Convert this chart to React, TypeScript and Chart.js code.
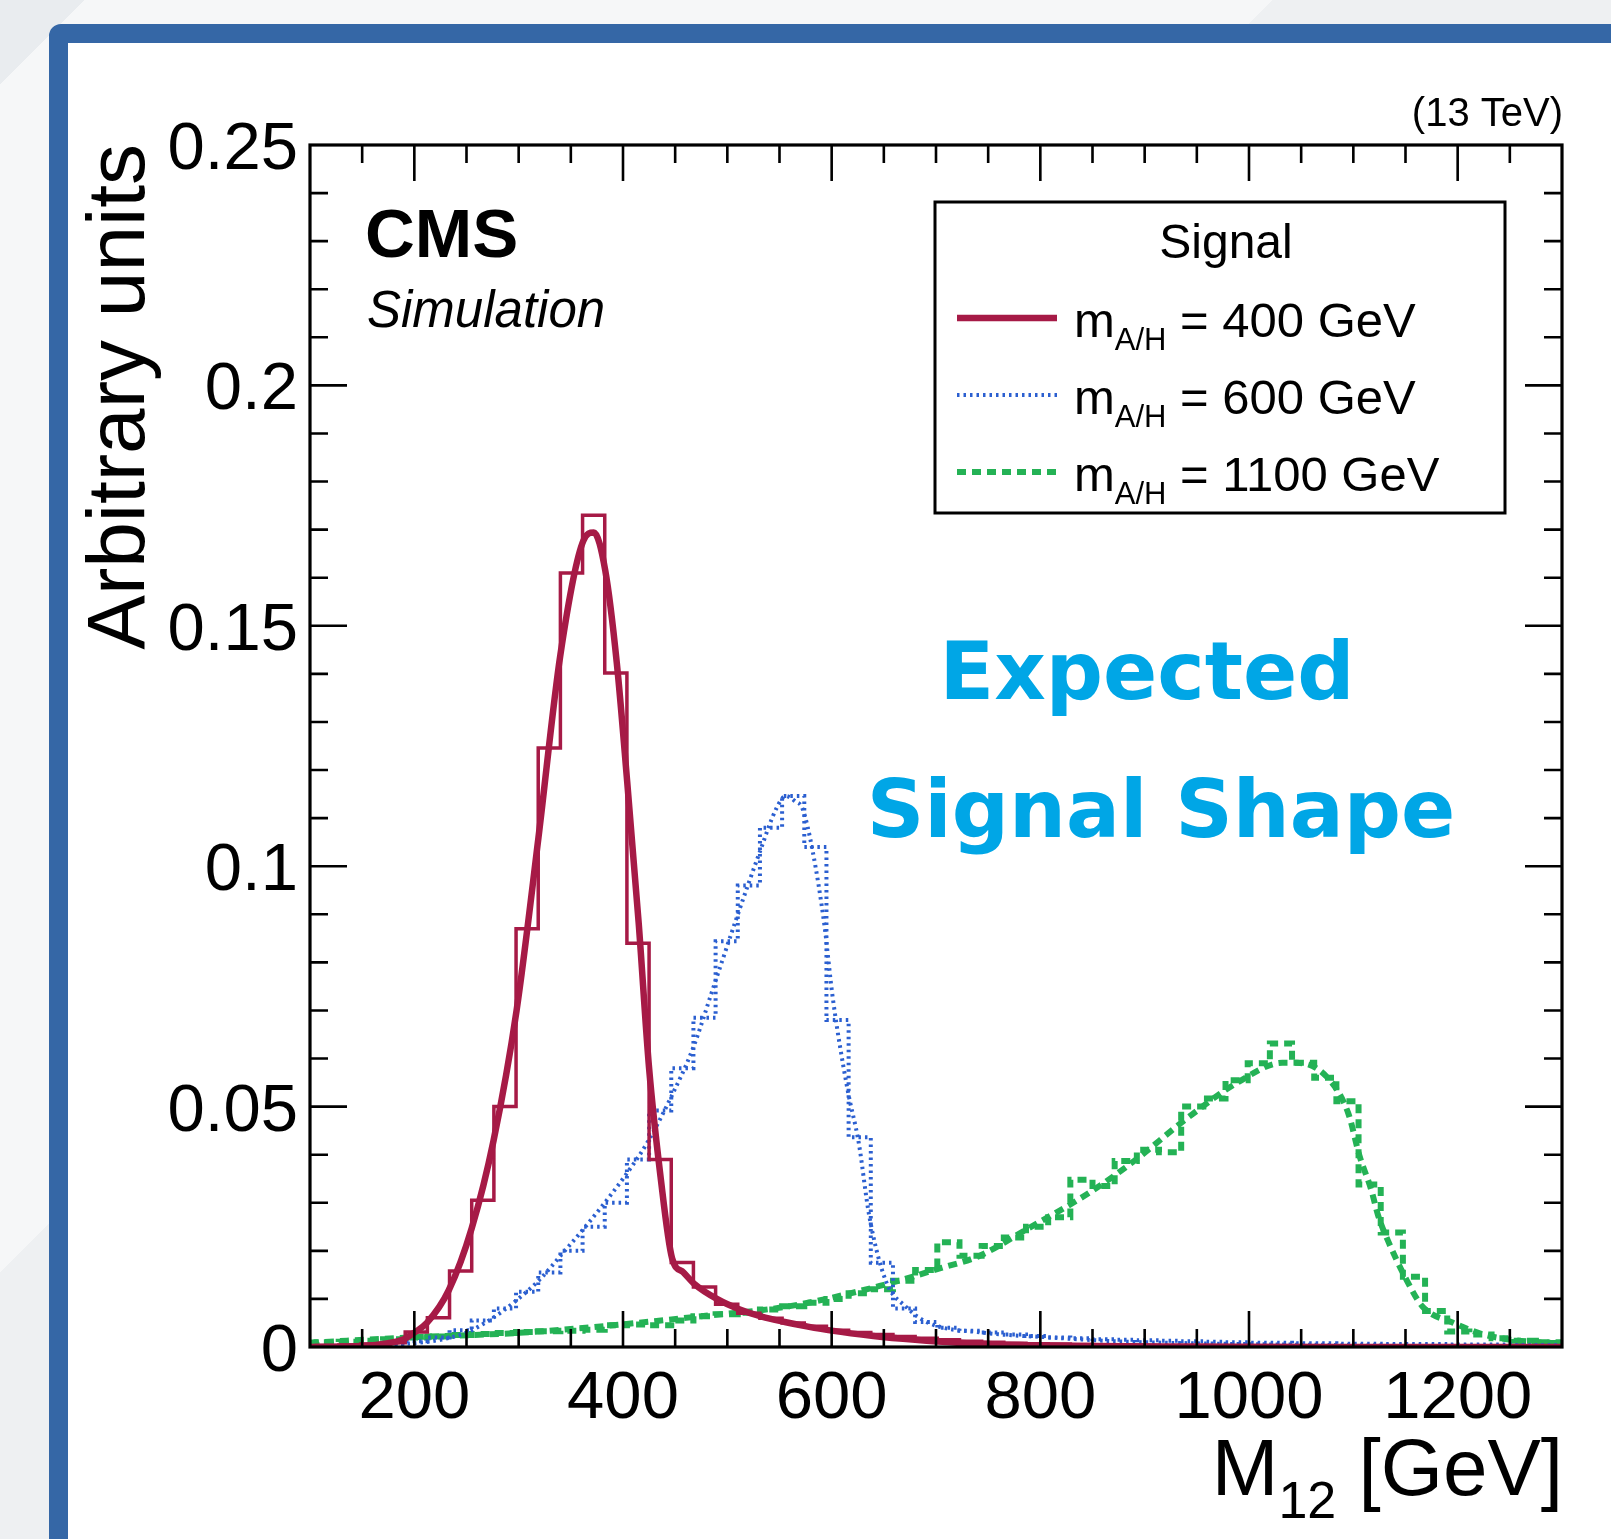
import React, { useEffect, useRef } from "react";
import { Chart, registerables } from "chart.js";

Chart.register(...registerables);

// ---------------- data ----------------
// Histogram bins: bin k covers [k*BIN_WIDTH, (k+1)*BIN_WIDTH) GeV, first stored bin is FIRST_BIN
const BIN_WIDTH = 21.25;
const FIRST_BIN = 4;

const red400Hist = [
  0.0002, 0.0003, 0.0004, 0.0006, 0.0009, 0.0031, 0.0061, 0.0158, 0.0305, 0.05,
  0.087, 0.1246, 0.161, 0.173, 0.1402, 0.084, 0.039, 0.0176, 0.0125, 0.0089,
  0.007, 0.006, 0.005, 0.0043, 0.0035, 0.003, 0.0026, 0.0022, 0.0018, 0.0015,
  0.0012, 0.001, 0.0008, 0.0007, 0.0006, 0.0005, 0.0004, 0.0003, 0.0003, 0.0002,
  0.0002, 0.0001, 0.0001, 0.0001, 0.0001, 0.0001, 0.0001, 0, 0, 0,
  0, 0, 0, 0, 0, 0, 0, 0,
];

const blue600Hist = [
  0.0001, 0.0002, 0.0002, 0.0004, 0.0007, 0.0012, 0.002, 0.0035, 0.0055, 0.008,
  0.0115, 0.0155, 0.02, 0.025, 0.03, 0.039, 0.0492, 0.058, 0.0685, 0.0844,
  0.096, 0.108, 0.1146, 0.104, 0.068, 0.0436, 0.0175, 0.008, 0.0052, 0.004,
  0.0034, 0.003, 0.0026, 0.0023, 0.002, 0.0018, 0.0016, 0.0015, 0.0014, 0.0013,
  0.0012, 0.0011, 0.001, 0.0009, 0.0009, 0.0008, 0.0008, 0.0007, 0.0007, 0.0006,
  0.0006, 0.0006, 0.0005, 0.0005, 0.0005, 0.0004, 0.0004, 0.0004,
];

const green1100Hist = [
  0.0009, 0.001, 0.0011, 0.0013, 0.0016, 0.002, 0.0022, 0.0025, 0.0027, 0.0029,
  0.0031, 0.0033, 0.0034, 0.0036, 0.0045, 0.0047, 0.0045, 0.0055, 0.0064, 0.0068,
  0.0071, 0.0078, 0.0085, 0.0092, 0.01, 0.0112, 0.012, 0.0138, 0.016, 0.0218,
  0.019, 0.021, 0.0228, 0.025, 0.027, 0.0348, 0.0335, 0.0387, 0.041, 0.0405,
  0.05, 0.0517, 0.0555, 0.059, 0.0631, 0.0591, 0.056, 0.0511, 0.0338, 0.0238,
  0.0146, 0.0075, 0.0032, 0.0026, 0.0018, 0.0013, 0.001, 0.0008,
];

// Fitted shapes
const red400FitX = [100, 150, 175, 190, 200, 212, 233, 255, 276, 298, 319, 340, 362, 372, 383, 394, 404, 415, 425, 436, 447, 458, 469, 490, 512, 533, 555, 576, 600, 640, 680, 720, 780, 850, 950, 1100, 1300];
const red400FitY = [0, 0.0002, 0.0008, 0.0016, 0.003, 0.005, 0.0118, 0.0247, 0.043, 0.07, 0.106, 0.144, 0.1677, 0.1694, 0.1615, 0.1424, 0.1176, 0.0883, 0.058, 0.0354, 0.0185, 0.0155, 0.013, 0.01, 0.0078, 0.0063, 0.0052, 0.0043, 0.0034, 0.0023, 0.0015, 0.0009, 0.0004, 0.0002, 0.0001, 0, 0];

const blue600FitX = [100, 150, 200, 225, 250, 275, 295, 320, 343, 362, 381, 400, 423, 445, 467, 488, 509, 531, 547, 556, 565, 572, 582, 593, 601, 615, 626, 636, 652, 671, 693, 744, 808, 871, 967, 1100, 1300];
const blue600FitY = [0.0001, 0.0003, 0.0008, 0.0015, 0.003, 0.006, 0.0092, 0.014, 0.0197, 0.0245, 0.0296, 0.035, 0.0424, 0.0515, 0.0621, 0.0757, 0.0893, 0.1029, 0.112, 0.1146, 0.1135, 0.112, 0.1029, 0.0878, 0.0727, 0.0538, 0.0424, 0.0273, 0.0137, 0.0084, 0.005, 0.003, 0.002, 0.0012, 0.0007, 0.0004, 0.0002];

const green1100FitX = [100, 198, 305, 399, 475, 560, 646, 706, 741, 787, 847, 890, 939, 989, 1032, 1046, 1074, 1095, 1106, 1117, 1124, 1134, 1149, 1166, 1195, 1230, 1287, 1300];
const green1100FitY = [0.0009, 0.002, 0.003, 0.0047, 0.0064, 0.0085, 0.0127, 0.0165, 0.0189, 0.0245, 0.0321, 0.0387, 0.0473, 0.055, 0.0591, 0.0591, 0.0563, 0.0487, 0.0397, 0.0328, 0.0272, 0.0217, 0.0148, 0.0085, 0.0051, 0.0023, 0.0009, 0.0008];

// Axes
const X_MIN = 100;
const X_MAX = 1300;
const Y_MIN = 0;
const Y_MAX = 0.25;
const xMajorTicks = [200, 400, 600, 800, 1000, 1200];
const xTickLabels = ["200", "400", "600", "800", "1000", "1200"];
const X_MINOR_STEP = 50;
const yMajorTicks = [0, 0.05, 0.1, 0.15, 0.2, 0.25];
const yTickLabels = ["0", "0.05", "0.1", "0.15", "0.2", "0.25"];
const Y_MINOR_STEP = 0.01;

const legendTitle = "Signal";
const legendMasses = ["400", "600", "1100"];

// ---------------- styles ----------------
const RED = "#a61a46";
const BLUE = "#2b5fd0";
const GREEN = "#24b255";
const FONT = '"Liberation Sans", Arial, Helvetica, sans-serif';

const lineStyles = [
  { color: RED, width: 6.5, dash: [] as number[] },
  { color: BLUE, width: 4, dash: [2.5, 4] },
  { color: GREEN, width: 6, dash: [9, 6] },
];

function histPoints(values: number[]) {
  const pts = values.map((v, i) => ({ x: (FIRST_BIN + i) * BIN_WIDTH, y: v }));
  pts.push({ x: (FIRST_BIN + values.length) * BIN_WIDTH, y: values[values.length - 1] });
  return pts;
}

function curvePoints(xs: number[], ys: number[]) {
  return xs.map((x, i) => ({ x, y: ys[i] }));
}

const rootPlugin = {
  id: "rootStyle",
  afterDatasetsDraw(chart: any) {
    const { ctx, chartArea: a, scales } = chart;
    const xs = scales.x;
    const ys = scales.y;
    ctx.save();

    // frame
    ctx.strokeStyle = "#000";
    ctx.lineWidth = 3.2;
    ctx.strokeRect(a.left, a.top, a.right - a.left, a.bottom - a.top);

    // ticks
    ctx.lineWidth = 2.6;
    ctx.beginPath();
    const nx = Math.round((X_MAX - X_MIN) / X_MINOR_STEP);
    for (let i = 1; i < nx; i++) {
      const v = X_MIN + i * X_MINOR_STEP;
      const px = xs.getPixelForValue(v);
      const len = xMajorTicks.includes(v) ? 36 : 18;
      ctx.moveTo(px, a.bottom);
      ctx.lineTo(px, a.bottom - len);
      ctx.moveTo(px, a.top);
      ctx.lineTo(px, a.top + len);
    }
    const ny = Math.round((Y_MAX - Y_MIN) / Y_MINOR_STEP);
    for (let i = 1; i < ny; i++) {
      const v = Y_MIN + i * Y_MINOR_STEP;
      const py = ys.getPixelForValue(v);
      const major = i % 5 === 0;
      const len = major ? 37 : 18;
      ctx.moveTo(a.left, py);
      ctx.lineTo(a.left + len, py);
      ctx.moveTo(a.right, py);
      ctx.lineTo(a.right - len, py);
    }
    ctx.stroke();

    // tick labels
    ctx.fillStyle = "#000";
    ctx.font = `67px ${FONT}`;
    ctx.textBaseline = "alphabetic";
    ctx.textAlign = "center";
    xMajorTicks.forEach((v, i) => {
      ctx.fillText(xTickLabels[i], xs.getPixelForValue(v), a.bottom + 71);
    });
    ctx.textAlign = "right";
    yMajorTicks.forEach((v, i) => {
      ctx.fillText(yTickLabels[i], a.left - 12, ys.getPixelForValue(v) + 24);
    });

    // y title
    ctx.save();
    ctx.translate(144, a.top - 1);
    ctx.rotate(-Math.PI / 2);
    ctx.font = `82px ${FONT}`;
    ctx.textAlign = "right";
    ctx.fillText("Arbitrary units", 0, 0);
    ctx.restore();

    // x title: M_12 [GeV]
    ctx.textAlign = "left";
    const mainF = `80px ${FONT}`;
    const subF = `52px ${FONT}`;
    ctx.font = mainF;
    const wM = ctx.measureText("M").width;
    const wRest = ctx.measureText(" [GeV]").width;
    ctx.font = subF;
    const wSub = ctx.measureText("12").width;
    let tx = a.right + 1 - (wM + wSub + wRest);
    ctx.font = mainF;
    ctx.fillText("M", tx, 1495);
    tx += wM;
    ctx.font = subF;
    ctx.fillText("12", tx, 1518);
    tx += wSub;
    ctx.font = mainF;
    ctx.fillText(" [GeV]", tx, 1495);

    // energy label
    ctx.font = `40px ${FONT}`;
    ctx.textAlign = "right";
    ctx.fillText("(13 TeV)", a.right + 1, 126);

    // CMS Simulation
    ctx.textAlign = "left";
    ctx.font = `bold 69px ${FONT}`;
    ctx.fillText("CMS", 365, 257);
    ctx.font = `italic 51px ${FONT}`;
    ctx.fillText("Simulation", 367, 327);

    // Expected Signal Shape
    ctx.fillStyle = "#00a6e6";
    ctx.font = 'bold 80px "DejaVu Sans", sans-serif';
    ctx.textAlign = "center";
    ctx.fillText("Expected", 1147, 699);
    ctx.fillText("Signal Shape", 1161, 837);

    // legend
    const lx = 935, ly = 202, lw = 570, lh = 311;
    ctx.fillStyle = "#fff";
    ctx.fillRect(lx, ly, lw, lh);
    ctx.strokeStyle = "#000";
    ctx.lineWidth = 3;
    ctx.strokeRect(lx, ly, lw, lh);
    ctx.fillStyle = "#000";
    ctx.font = `48px ${FONT}`;
    ctx.textAlign = "center";
    ctx.fillText(legendTitle, 1226, 258);
    ctx.textAlign = "left";
    legendMasses.forEach((m, i) => {
      const base = 337 + i * 77;
      const st = lineStyles[i];
      ctx.save();
      ctx.strokeStyle = st.color;
      ctx.lineWidth = st.width;
      ctx.setLineDash(st.dash);
      ctx.beginPath();
      ctx.moveTo(957, base - 19);
      ctx.lineTo(1057, base - 19);
      ctx.stroke();
      ctx.restore();
      let x = 1074;
      ctx.font = `49px ${FONT}`;
      ctx.fillText("m", x, base);
      x += ctx.measureText("m").width;
      ctx.font = `31px ${FONT}`;
      ctx.fillText("A/H", x, base + 13);
      x += ctx.measureText("A/H").width;
      ctx.font = `49px ${FONT}`;
      ctx.fillText(` = ${m} GeV`, x, base);
    });

    ctx.restore();
  },
};

export default function App() {
  const ref = useRef<HTMLCanvasElement | null>(null);

  useEffect(() => {
    if (!ref.current) return;
    const mk = (
      data: { x: number; y: number }[],
      color: string,
      width: number,
      dash: number[],
      smooth: boolean
    ) => ({
      data,
      borderColor: color,
      borderWidth: width,
      borderDash: dash,
      borderCapStyle: "butt" as const,
      borderJoinStyle: "miter" as const,
      pointRadius: 0,
      fill: false,
      stepped: smooth ? false : ("before" as const),
      tension: smooth ? 0.4 : 0,
      cubicInterpolationMode: smooth ? ("monotone" as const) : ("default" as const),
    });

    const chart = new Chart(ref.current, {
      type: "line",
      data: {
        datasets: [
          mk(curvePoints(red400FitX, red400FitY), RED, 6.5, [], true),
          mk(histPoints(red400Hist), RED, 3.5, [], false),
          mk(curvePoints(blue600FitX, blue600FitY), BLUE, 4, [2.5, 4], true),
          mk(histPoints(blue600Hist), BLUE, 4, [2.5, 4], false),
          mk(curvePoints(green1100FitX, green1100FitY), GREEN, 6, [9, 6], true),
          mk(histPoints(green1100Hist), GREEN, 6, [9, 6], false),
        ] as any,
      },
      options: {
        animation: false,
        responsive: false,
        maintainAspectRatio: false,
        events: [],
        layout: { padding: { left: 0, top: 145, right: 49, bottom: 0 } },
        plugins: {
          legend: { display: false },
          tooltip: { enabled: false },
          title: { display: false },
        },
        scales: {
          x: {
            type: "linear",
            min: X_MIN,
            max: X_MAX,
            grid: { display: false, drawTicks: false },
            border: { display: false },
            ticks: { display: false },
            afterFit: (s: any) => {
              s.height = 192;
            },
          },
          y: {
            type: "linear",
            min: Y_MIN,
            max: Y_MAX,
            grid: { display: false, drawTicks: false },
            border: { display: false },
            ticks: { display: false },
            afterFit: (s: any) => {
              s.width = 310;
            },
          },
        },
      } as any,
      plugins: [rootPlugin],
    });
    return () => chart.destroy();
  }, []);

  return (
    <div
      style={{
        position: "absolute",
        left: 0,
        top: 0,
        width: 1611,
        height: 1539,
        overflow: "hidden",
        background: "#eff1f3",
      }}
    >
      <div
        style={{
          position: "absolute",
          left: 0,
          top: 0,
          width: 1611,
          height: 1539,
          background:
            "linear-gradient(135deg, #e9ecef 0px, #e9ecef 60px, #f6f7f8 60px, #f6f7f8 900px, #eef0f2 900px)",
        }}
      />
      <div
        style={{
          position: "absolute",
          left: 49,
          top: 24,
          width: 1640,
          height: 1600,
          boxSizing: "border-box",
          border: "19px solid #3567a6",
          borderRadius: 12,
          background: "#ffffff",
        }}
      />
      <canvas
        ref={ref}
        width={1611}
        height={1539}
        style={{ position: "absolute", left: 0, top: 0, width: 1611, height: 1539 }}
      />
    </div>
  );
}
